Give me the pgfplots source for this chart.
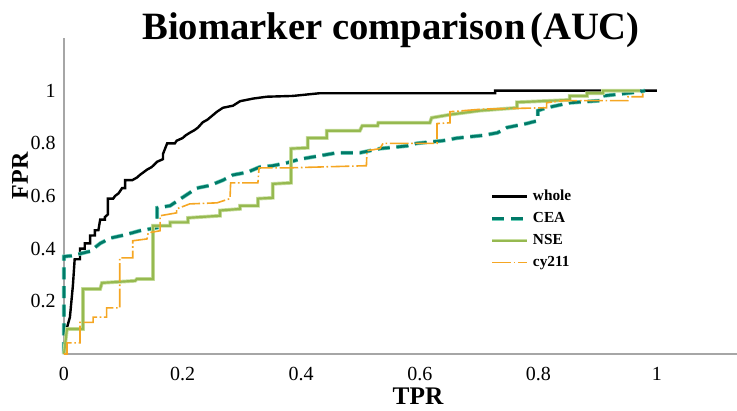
\documentclass[border=0pt]{standalone}
\usepackage{pgfplots}
\pgfplotsset{compat=1.18}
\usepackage{fontspec}
\setmainfont{Liberation Serif}
\definecolor{ceacol}{RGB}{0,122,104}
\definecolor{ceaglow}{RGB}{110,205,185}
\definecolor{nsecol}{RGB}{150,185,80}
\definecolor{nseglow}{RGB}{200,222,160}
\definecolor{cycol}{RGB}{245,166,35}
\definecolor{axcol}{RGB}{166,166,166}
\begin{document}
\begin{tikzpicture}
\path[use as bounding box] (-48pt,-42pt) rectangle (504.75pt,265.5pt);
\begin{axis}[
  scale only axis,
  width=504.75pt, height=237pt,
  xmin=0, xmax=1.135, ymin=0, ymax=1.2,
  axis lines*=left,
  axis line style={axcol, line width=1.5pt},
  clip=false,
  major tick length=0pt,
  xtick={0,0.2,0.4,0.6,0.8,1},
  xticklabels={0,0.2,0.4,0.6,0.8,1},
  ytick={0.2,0.4,0.6,0.8,1},
  yticklabels={0.2,0.4,0.6,0.8,1},
  tick label style={font=\fontsize{15}{17}\selectfont, inner sep=0pt},
  xticklabel style={anchor=north, yshift=-9.75pt},
  yticklabel style={anchor=east, xshift=-6pt},
  legend image code/.code={\draw[#1] (0pt,0pt) -- (26pt,0pt);},
  legend style={
    at={(rel axis cs:0.633,0.521)}, anchor=north west,
    draw=none, fill=none, inner sep=0pt,
    font=\bfseries\fontsize{11.5}{13}\selectfont,
    nodes={inner sep=0pt, text height=8pt, text depth=2.5pt},
    row sep=6pt, column sep=3pt,
    legend cell align=left
  },
]
\addplot[black, line width=1.8pt, line join=miter] coordinates {
(0,0.02) (0.005,0.1) (0.01,0.14) (0.015,0.26) (0.018,0.36) (0.027,0.36) (0.027,0.40)
(0.035,0.40) (0.035,0.42) (0.044,0.42) (0.044,0.45) (0.052,0.45) (0.052,0.47) (0.058,0.47)
(0.061,0.51) (0.069,0.51) (0.069,0.52) (0.074,0.53) (0.074,0.59) (0.083,0.59)
(0.086,0.60) (0.092,0.61) (0.098,0.63) (0.103,0.63) (0.103,0.66) (0.115,0.66) (0.123,0.67)
(0.128,0.68) (0.140,0.70) (0.148,0.71) (0.157,0.73) (0.167,0.74) (0.167,0.76) (0.174,0.80)
(0.187,0.80) (0.19,0.81) (0.20,0.82) (0.205,0.83) (0.212,0.84) (0.22,0.85)
(0.226,0.86) (0.234,0.88) (0.242,0.89) (0.25,0.905) (0.258,0.92) (0.268,0.935) (0.285,0.943) (0.297,0.96)
(0.319,0.97) (0.342,0.977) (0.386,0.98) (0.43,0.99) (0.727,0.99) (0.727,1.0) (1.0,1.0)
};
\addlegendentry{whole}
\addplot[ceacol, line width=2pt, dash pattern=on 9pt off 5pt,
  preaction={draw, ceaglow, line width=3pt, dash pattern=on 9pt off 5pt}] coordinates {
(0,0) (0,0.37) (0.013,0.373) (0.044,0.39) (0.061,0.42) (0.078,0.44) (0.098,0.45)
(0.115,0.46) (0.131,0.47) (0.145,0.475) (0.157,0.48) (0.157,0.555) (0.179,0.563)
(0.199,0.593) (0.224,0.63) (0.246,0.64) (0.268,0.66) (0.285,0.68) (0.309,0.69)
(0.330,0.71) (0.352,0.715) (0.376,0.726) (0.398,0.74) (0.432,0.753) (0.46,0.764)
(0.499,0.764) (0.533,0.78) (0.578,0.79) (0.595,0.80) (0.639,0.81) (0.663,0.82)
(0.706,0.83) (0.731,0.84) (0.747,0.86) (0.78,0.875) (0.799,0.886) (0.799,0.924)
(0.814,0.935) (0.853,0.954) (0.904,0.962) (0.909,0.98) (0.949,0.99) (0.971,0.996) (0.98,1.0)
};
\addlegendentry{CEA}
\addplot[nsecol, line width=1.6pt,
  preaction={draw, nseglow, line width=2.8pt}] coordinates {
(0,0) (0.005,0.095) (0.032,0.095) (0.032,0.247) (0.061,0.247) (0.064,0.27) (0.12,0.278)
(0.123,0.285) (0.15,0.285) (0.15,0.487) (0.179,0.487) (0.179,0.50) (0.209,0.50)
(0.209,0.517) (0.263,0.525) (0.263,0.545) (0.297,0.551) (0.297,0.563) (0.327,0.563)
(0.327,0.59) (0.352,0.593) (0.352,0.646) (0.383,0.65) (0.383,0.78) (0.411,0.783)
(0.411,0.82) (0.443,0.82) (0.443,0.848) (0.499,0.848) (0.503,0.867) (0.529,0.867)
(0.53,0.878) (0.617,0.878) (0.62,0.897) (0.651,0.909) (0.701,0.924) (0.764,0.935)
(0.764,0.956) (0.853,0.965) (0.853,0.98) (0.882,0.98) (0.882,0.99) (0.909,0.99)
(0.909,1.0) (0.971,1.0)
};
\addlegendentry{NSE}
\addplot[cycol, line width=1.2pt, dash pattern=on 14pt off 2pt on 1.2pt off 2pt] coordinates {
(0,0) (0.005,0.0) (0.005,0.042) (0.027,0.042) (0.027,0.12) (0.049,0.12) (0.049,0.14)
(0.072,0.14) (0.072,0.175) (0.094,0.175) (0.094,0.365) (0.116,0.365) (0.116,0.43)
(0.14,0.437) (0.142,0.46) (0.162,0.468) (0.162,0.525) (0.19,0.536) (0.19,0.551)
(0.212,0.57) (0.258,0.574) (0.28,0.59) (0.281,0.65) (0.327,0.65) (0.329,0.707)
(0.38,0.707) (0.51,0.715) (0.511,0.772) (0.533,0.78) (0.538,0.80) (0.629,0.80)
(0.629,0.875) (0.651,0.878) (0.651,0.92) (0.706,0.93) (0.814,0.935) (0.814,0.954)
(0.841,0.962) (0.951,0.962) (0.951,0.977) (0.976,0.977) (0.976,0.99)
};
\addlegendentry{cy211}
\end{axis}
\node[anchor=base, font=\bfseries\fontsize{29}{33}\selectfont, inner sep=0pt]
  at (245.25pt,235.5pt) {Biomarker comparison\hspace{0.12em}(AUC)};
\node[anchor=center, rotate=90, font=\bfseries\fontsize{18}{21}\selectfont, inner sep=0pt]
  at (-33pt,133.5pt) {FPR};
\node[anchor=base, font=\bfseries\fontsize{19}{22}\selectfont, inner sep=0pt]
  at (265.5pt,-38pt) {TPR};
\end{tikzpicture}
\end{document}
